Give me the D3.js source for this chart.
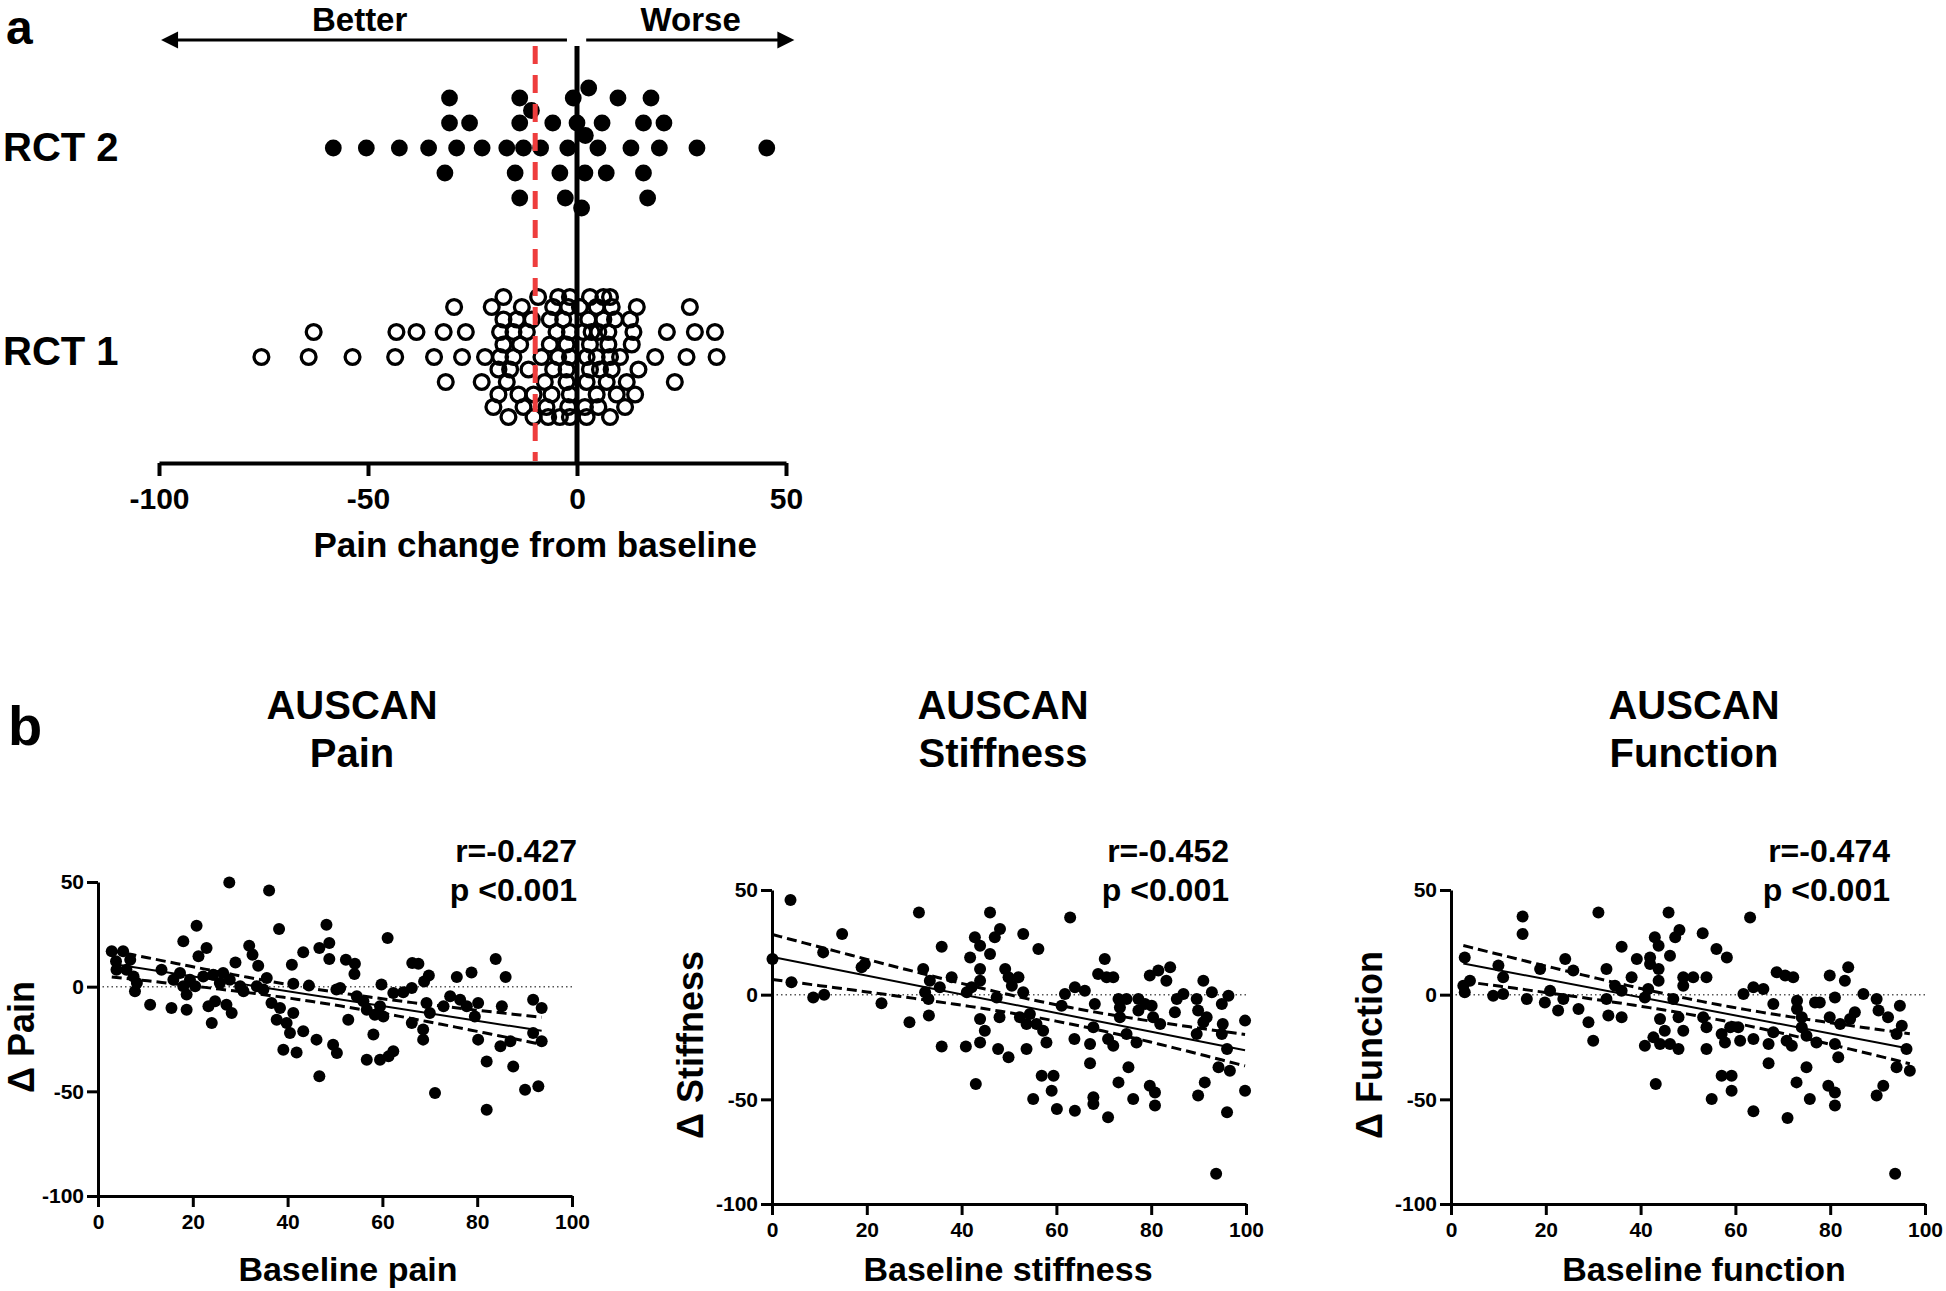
<!DOCTYPE html>
<html><head><meta charset="utf-8">
<script src="https://cdn.jsdelivr.net/npm/d3@7"></script>
<style>
body{margin:0;background:#fff}
svg{display:block}
text{font-family:"Liberation Sans",Arial,Helvetica,sans-serif;font-weight:bold;fill:#000}
</style>
</head><body>
<svg id="chart" width="1946" height="1291"></svg>
<script>
// ---------------- DATA ----------------
const rctCategories = ["RCT 2", "RCT 1"];
const panelATicks = [-100, -50, 0, 50];
const mcidValue = -10;
const panelAXLabel = "Pain change from baseline";
const betterLabel = "Better", worseLabel = "Worse";

// RCT 2: pain change from baseline (filled dots)
const rct2Values = [-58.3,-50.4,-42.5,-35.5,-28.8,-16.8,-8.7,-2.2,5.0,12.9,19.7,28.7,45.4,
  -30.5,-25.7,-13.7,-5.8,0,6.0,15.9,20.8,
  -31.6,-22.7,-14.8,-4.1,-0.9,7.0,15.9,
  -13.7,-2.8,1.9,9.8,17.7,
  -30.5,-13.7,1.1,16.9,
  -10.9,2.8,-12.8,2.0];

// RCT 1: pain change from baseline (open circles)
const rct1Values = [-75.5,-64.2,-53.7,-43.5,-34.2,-27.5,-22.0,-18.4,-15.2,-12.0,-8.5,-4.9,-1.7,1.5,4.7,7.5,10.3,13.5,18.7,26.2,33.4,
  -38.4,-31.9,-22.8,-20.4,-16.8,-13.2,-7.7,-5.7,-2.5,2.3,4.7,7.1,11.9,14.3,21.5,28.2,33.0,
  -63.0,-43.2,-31.4,-26.6,-20.0,-16.4,-14.0,-7.3,-4.1,-1.7,1.9,4.7,7.9,11.5,23.4,27.0,
  -17.6,-13.6,-9.3,-6.5,-3.3,3.1,7.9,14.7,
  -17.6,-14.4,-10.4,-5.7,-2.5,2.7,6.3,9.5,13.9,
  -29.4,-18.8,-11.6,-6.1,-2.1,3.1,8.3,13.1,
  -18.8,-12.8,-6.5,-2.5,0.7,5.1,12.7,
  -17.6,-16.0,-10.8,-4.5,-1.7,3.1,5.1,7.5,
  -18.4,-15.2,-10.4,-6.9,-4.5,-1.7,2.3,5.5,7.9,
  -2.1,3.5,8.3,
  -1.7,2.3,6.3,9.1];

// Panel b: [baseline, change]
const painPoints = [[27.7,49.8],[36.1,45.9],[20.8,29.1],[38.2,27.5],[48.2,29.6],[61.1,23.2],[18.0,21.7],[22.9,18.5],[21.2,14.5],[31.9,19.6],
 [32.6,15.3],[33.8,10.0],[29.0,11.6],[43.3,16.4],[40.9,10.5],[46.7,18.5],[48.8,20.9],[48.8,13.2],[52.3,12.9],[54.2,11.0],
 [54.1,6.1],[66.3,11.3],[67.6,11.0],[69.8,5.3],[68.8,2.5],[75.7,4.6],[78.8,6.8],[83.9,13.2],[86.0,4.6],[59.8,1.0],
 [64.4,-2.7],[66.2,-0.6],[51.1,-0.6],[41.2,1.4],[44.5,0.5],
 [2.9,16.9],[5.3,16.9],[3.8,12.1],[6.8,12.9],[3.9,8.1],[6.0,8.1],[7.5,4.9],[7.8,-2.2],[8.2,1.8],
 [11.0,-8.6],[15.5,-10.2],[18.7,-11.0],[23.3,-9.4],[24.0,-17.4],[27.1,-8.6],[28.2,-12.6],[24.7,-7.0],
 [13.4,8.1],[17.3,6.5],[18.0,0.2],[19.4,3.3],[15.9,3.3],[18.7,-3.8],[20.5,0.2],
 [22.2,4.9],[24.3,5.7],[26.4,6.5],[27.8,3.3],[25.7,1.8],[30.0,0.2],[30.7,-2.2],[33.5,0.2],[35.6,4.1],[34.9,-1.4],
 [36.6,-7.8],[38.4,-10.2],[37.7,-15.8],[41.2,-12.6],[39.8,-17.4],[40.5,-22.1],[43.3,-21.3],[46.1,-25.3],[39.1,-30.1],[41.9,-31.4],
 [49.6,-27.7],[50.4,-31.7],[46.7,-42.8],
 [50.3,-1.4],[52.8,-15.8],[54.6,-4.6],[56.0,-7.0],[56.7,-11.0],[58.4,-13.4],[58.1,-22.9],[60.2,-14.2],[59.5,-9.4],[62.3,-3.0],
 [56.7,-34.9],[59.5,-34.9],[62.3,-30.9],[61.3,-33.3],
 [66.2,-17.4],[68.6,-20.5],[68.6,-25.3],[70.0,-12.6],[69.3,-7.8],[71.1,-50.8],[74.3,-4.6],[76.4,-6.2],[77.8,-9.4],[80.2,-7.8],
 [79.5,-14.2],[80.2,-25.3],[82.0,-35.7],[82.0,-58.8],[85.2,-9.4],[84.9,-28.5],[87.0,-26.1],[87.6,-38.1],[90.1,-49.2],[92.9,-47.6],
 [91.8,-6.2],[93.6,-10.2],[91.8,-22.1],[93.6,-26.1],[72.9,-9.4]];

const stiffnessPoints = [[3.9,45.2],[0.1,17.0],[4.1,5.9],[8.7,-1.3],[11.0,0],[14.8,29.0],[10.8,20.2],[18.9,13.1],[19.6,14.6],[23.1,-4.1],
 [29.0,-13.2],[31.0,39.3],[31.9,12.3],[33.3,6.7],[32.3,1.1],[33.0,-2.1],[33.1,-10.0],[35.4,3.5],[35.8,22.9],[37.9,8.3],
 [35.8,-24.8],[40.9,-24.8],[41.1,1.1],[42.1,3.5],[41.8,17.8],[42.8,27.4],[43.9,23.4],[46.0,19.4],[43.9,12.3],[43.9,6.7],
 [43.0,-42.7],[43.9,-11.6],[44.9,-17.2],[43.9,-22.8],[46.0,39.3],[47.0,27.4],[48.1,31.4],[47.4,-1.3],[48.0,-10.8],[49.2,12.3],
 [49.9,8.3],[50.6,4.3],[52.0,8.3],[53.0,29.0],[53.0,1.1],[47.7,-26.0],[49.9,-29.9],[53.7,-26.0],[52.3,-10.8],[53.7,-14.0],
 [54.4,-9.2],[55.8,-14.0],[56.2,21.8],[57.2,-17.2],[57.9,-22.8],[56.9,-38.7],[59.4,-38.7],[59.0,-45.9],[55.1,-49.8],[60.1,-54.6],
 [61.1,-5.3],[61.8,0.3],[63.9,3.5],[66.0,1.9],[62.9,36.9],[63.8,-21.2],[63.9,-55.4],[67.1,-23.6],[67.1,-32.8],[67.8,-15.6],
 [67.8,-49.0],[67.8,-52.2],[68.1,-4.5],[68.8,9.9],[70.2,17.0],[70.6,8.3],[72.0,8.3],[70.9,-21.2],[72.0,-24.4],[70.9,-58.6],
 [73.1,-41.9],[73.1,-2.1],[73.4,-6.1],[73.4,-10.8],[74.8,-2.1],[74.8,-18.8],[75.2,-34.7],[76.2,-49.8],[76.9,-22.8],[77.3,-2.1],
 [77.3,-7.6],[78.7,-4.5],[79.7,9.1],[81.5,11.5],[84.0,13.1],[83.2,6.7],[80.1,-5.3],[80.4,-10.8],[81.9,-14.0],[79.7,-43.5],
 [80.8,-46.7],[80.8,-53.0],[85.0,-8.4],[85.4,-2.1],[86.8,0.3],[89.6,-2.1],[89.9,-7.6],[91.0,6.7],[92.8,1.1],[91.7,-10.8],
 [91.0,-13.2],[89.6,-18.8],[91.3,-41.9],[89.9,-48.2],[94.9,-4.5],[96.3,-0.5],[95.1,-14.0],[94.9,-18.8],[96.0,-26.0],[94.2,-34.7],
 [96.6,-36.3],[96.0,-56.2],[99.8,-12.4],[99.8,-45.9],[93.7,-85.5]];

const functionPoints = [[2.6,4.3],[2.9,1.1],[4.0,6.7],[2.9,17.8],[8.9,-0.5],[10.0,13.9],[11.0,8.3],[11.0,0.3],[15.1,37.3],[15.1,29.0],
 [16.0,-2.1],[18.8,12.3],[19.8,-3.7],[20.9,1.9],[22.6,-7.6],[23.7,-2.1],[24.1,17.0],[25.8,11.5],[26.9,-6.8],[29.0,-13.2],
 [30.0,-22.0],[31.1,39.3],[32.8,12.3],[32.8,-2.1],[33.2,-10.0],[34.6,4.3],[36.0,1.9],[36.0,-10.8],[36.0,22.9],[38.1,8.3],
 [39.2,17.0],[40.9,-1.3],[41.6,2.7],[42.0,17.8],[42.0,14.6],[43.0,27.4],[43.8,23.4],[43.8,12.3],[43.8,6.7],[46.2,18.6],
 [45.9,39.3],[47.3,27.4],[48.2,30.9],[46.9,-2.1],[48.0,-10.8],[49.0,-17.2],[44.1,-11.6],[45.1,-17.2],[40.9,-24.4],[42.7,-20.4],
 [44.1,-23.6],[46.2,-23.6],[48.0,-26.0],[43.2,-42.7],[49.0,8.3],[51.1,8.3],[53.9,8.3],[49.0,4.3],[53.1,29.3],[53.2,-10.8],
 [53.9,-15.6],[53.9,-26.0],[56.0,21.8],[58.2,17.8],[57.1,-18.8],[57.8,-22.8],[58.9,-15.6],[60.6,-15.6],[61.0,-22.0],[57.1,-38.7],
 [59.2,-38.7],[59.2,-45.9],[55.0,-49.8],[61.7,0.3],[63.8,3.5],[65.9,2.7],[63.1,36.9],[63.8,-21.2],[63.8,-55.7],[67.0,-23.6],
 [67.0,-32.8],[68.0,-18.0],[68.0,-4.5],[68.7,10.7],[70.5,9.1],[72.2,8.3],[70.8,-22.0],[71.9,-24.4],[71.0,-58.9],[73.0,-2.9],
 [73.0,-6.8],[74.0,-10.8],[74.0,-15.6],[75.0,-19.6],[75.0,-34.7],[72.9,-41.9],[75.7,-49.8],[76.8,-3.7],[77.8,-3.7],[77.1,-22.8],
 [79.9,9.1],[81.0,-1.3],[79.9,-10.8],[82.1,-14.0],[81.0,-23.6],[81.7,-29.9],[83.8,13.1],[83.1,6.7],[84.2,-11.6],[85.2,-8.4],
 [79.6,-43.5],[81.0,-46.7],[81.0,-53.0],[87.0,0.3],[89.8,-2.1],[90.2,-7.6],[92.2,-10.8],[94.7,-5.3],[95.1,-14.8],[94.0,-18.8],
 [96.1,-26.0],[94.0,-34.7],[96.8,-36.3],[91.2,-43.5],[89.8,-48.2],[93.7,-85.5]];

const scatterNames = ["Pain", "Stiffness", "Function"];
const scatterTitleTop = "AUSCAN";
const scatterXLabels = ["Baseline pain", "Baseline stiffness", "Baseline function"];
const scatterYLabels = ["\u0394 Pain", "\u0394 Stiffness", "\u0394 Function"];
const scatterR = ["r=-0.427", "r=-0.452", "r=-0.474"];
const scatterP = ["p <0.001", "p <0.001", "p <0.001"];
const scatterXTicks = [0, 20, 40, 60, 80, 100];
const scatterYTicks = [50, 0, -50, -100];

// ---------------- DRAW ----------------
const svg = d3.select("#chart");
const FONT = '"Liberation Sans", Arial, Helvetica, sans-serif';
const plainFmt = d => String(d);   // hyphen-minus like the original

function styleAxis(g, fs, sw) {
  g.select(".domain").attr("stroke", "#000").attr("stroke-width", sw);
  g.selectAll(".tick line").attr("stroke", "#000").attr("stroke-width", sw);
  g.selectAll(".tick text").attr("font-size", fs).attr("font-weight", "bold")
    .attr("font-family", FONT).attr("fill", "#000");
}

// ===== Panel a =====
const xA = d3.scaleLinear().domain([-100, 50]).range([159, 786]);
const yA = d3.scalePoint().domain(rctCategories).range([148, 357]);
const axisAY = 463;
const gA = svg.append("g");

svg.append("text").attr("x", 6).attr("y", 44).attr("font-size", 48).text("a");

// beeswarm-like lane placement
function swarm(values, scale, spacing, minDist, lanes) {
  const placed = [];
  return values.map(v => {
    const px = scale(v);
    let best = 0, bestD = -1;
    for (const l of lanes) {
      const py = -l * spacing;
      let d = Infinity;
      for (const p of placed) { const dd = Math.hypot(px - p.x, py - p.y); if (dd < d) d = dd; }
      if (d >= minDist) { best = l; bestD = d; break; }
      if (d > bestD) { bestD = d; best = l; }
    }
    const pt = {v, x: px, y: -best * spacing};
    placed.push(pt);
    return pt;
  });
}
const laneOrder = [0, 1, -1, 2, -2, 0.5, -0.5, 1.5, -1.5, 2.4, -2.4];
const rct2Pts = swarm(rct2Values, xA, 25, 19, laneOrder);
const rct1Pts = swarm(rct1Values, xA, 25, 19, laneOrder);

gA.append("g").selectAll("circle").data(rct2Pts).join("circle")
  .attr("cx", d => d.x).attr("cy", d => yA("RCT 2") + d.y).attr("r", 8.4).attr("fill", "#000");
gA.append("g").selectAll("circle").data(rct1Pts).join("circle")
  .attr("cx", d => d.x).attr("cy", d => yA("RCT 1") + d.y).attr("r", 7.4)
  .attr("fill", "none").attr("stroke", "#000").attr("stroke-width", 3.3);

// vertical zero line and MCID dashed line
gA.append("line").attr("x1", xA(0)).attr("x2", xA(0)).attr("y1", 46).attr("y2", axisAY)
  .attr("stroke", "#000").attr("stroke-width", 5);
gA.append("line").attr("x1", xA(mcidValue)).attr("x2", xA(mcidValue)).attr("y1", 46).attr("y2", axisAY - 2)
  .attr("stroke", "#ee3d3d").attr("stroke-width", 5).attr("stroke-dasharray", "18,11");

// axis
gA.append("g").attr("transform", `translate(0,${axisAY})`)
  .call(d3.axisBottom(xA).tickValues(panelATicks).tickSize(13).tickSizeOuter(0).tickPadding(12).tickFormat(plainFmt))
  .call(g => styleAxis(g, 30, 4));
gA.append("text").attr("x", xA(-10)).attr("y", 557).attr("text-anchor", "middle").attr("font-size", 35).text(panelAXLabel);

// category labels
rctCategories.forEach(c => {
  gA.append("text").attr("x", 3).attr("y", yA(c) + (c === "RCT 2" ? 13 : 8)).attr("font-size", 40).text(c);
});

// Better / Worse arrows
const arrowY = 40;
function arrow(x1, x2) {
  gA.append("line").attr("x1", x1).attr("x2", x2 + (x2 > x1 ? -12 : 12)).attr("y1", arrowY).attr("y2", arrowY)
    .attr("stroke", "#000").attr("stroke-width", 3);
  const dir = x2 > x1 ? 1 : -1;
  gA.append("path").attr("d", `M${x2},${arrowY}L${x2 - dir * 17},${arrowY - 8.5}L${x2 - dir * 17},${arrowY + 8.5}Z`).attr("fill", "#000");
}
arrow(xA(-2.4), xA(-99.5));
arrow(xA(2.2), xA(52));
gA.append("text").attr("x", xA(-52)).attr("y", 31).attr("text-anchor", "middle").attr("font-size", 33).text(betterLabel);
gA.append("text").attr("x", xA(27.2)).attr("y", 31).attr("text-anchor", "middle").attr("font-size", 33).text(worseLabel);

// ===== Panel b =====
svg.append("text").attr("x", 8).attr("y", 745).attr("font-size", 56).text("b");

const scatterData = [painPoints, stiffnessPoints, functionPoints];
const layouts = [
  {x0: 98, x1: 572, yTop: 882, yBot: 1196, titleX: 352, statX: 577, xLabX: 348},
  {x0: 772, x1: 1246, yTop: 890, yBot: 1204, titleX: 1003, statX: 1229, xLabX: 1008},
  {x0: 1451, x1: 1925, yTop: 890, yBot: 1204, titleX: 1694, statX: 1890, xLabX: 1704}
];

function regression(pts) {
  const n = pts.length;
  const mx = d3.mean(pts, d => d[0]), my = d3.mean(pts, d => d[1]);
  let sxx = 0, sxy = 0;
  pts.forEach(d => { sxx += (d[0] - mx) ** 2; sxy += (d[0] - mx) * (d[1] - my); });
  const b = sxy / sxx, a = my - b * mx;
  let sse = 0;
  pts.forEach(d => { sse += (d[1] - (a + b * d[0])) ** 2; });
  const s = Math.sqrt(sse / (n - 2));
  const t = 1.96 + 2.5 / (n - 2);
  return {a, b, ci: x => t * s * Math.sqrt(1 / n + (x - mx) ** 2 / sxx),
    xmin: d3.min(pts, d => d[0]), xmax: d3.max(pts, d => d[0])};
}

scatterData.forEach((pts, i) => {
  const L = layouts[i];
  const x = d3.scaleLinear().domain([0, 100]).range([L.x0, L.x1]);
  const y = d3.scaleLinear().domain([-100, 50]).range([L.yBot, L.yTop]);
  const g = svg.append("g");

  // titles
  g.append("text").attr("x", L.titleX).attr("y", 719).attr("text-anchor", "middle").attr("font-size", 40).text(scatterTitleTop);
  g.append("text").attr("x", L.titleX).attr("y", 767).attr("text-anchor", "middle").attr("font-size", 40).text(scatterNames[i]);

  // stats
  g.append("text").attr("x", L.statX).attr("y", 862).attr("text-anchor", "end").attr("font-size", 32).text(scatterR[i]);
  g.append("text").attr("x", L.statX).attr("y", 901).attr("text-anchor", "end").attr("font-size", 32).text(scatterP[i]);

  // zero dotted line
  g.append("line").attr("x1", x(0)).attr("x2", x(100)).attr("y1", y(0)).attr("y2", y(0))
    .attr("stroke", "#555").attr("stroke-width", 1.5).attr("stroke-dasharray", "1.5,3");

  // dots
  g.append("g").selectAll("circle").data(pts).join("circle")
    .attr("cx", d => x(d[0])).attr("cy", d => y(d[1])).attr("r", 6).attr("fill", "#000");

  // regression line + 95% CI
  const R = regression(pts);
  const xs = d3.range(0, 61).map(k => R.xmin + (R.xmax - R.xmin) * k / 60);
  g.append("line").attr("x1", x(R.xmin)).attr("x2", x(R.xmax))
    .attr("y1", y(R.a + R.b * R.xmin)).attr("y2", y(R.a + R.b * R.xmax))
    .attr("stroke", "#000").attr("stroke-width", 2);
  [1, -1].forEach(sgn => {
    g.append("path").attr("d", d3.line().x(v => x(v)).y(v => y(R.a + R.b * v + sgn * R.ci(v)))(xs))
      .attr("fill", "none").attr("stroke", "#000").attr("stroke-width", 3).attr("stroke-dasharray", "10,5");
  });

  // axes
  g.append("g").attr("transform", `translate(${L.x0},0)`)
    .call(d3.axisLeft(y).tickValues(scatterYTicks).tickSize(11).tickSizeOuter(0).tickPadding(3).tickFormat(plainFmt))
    .call(a => styleAxis(a, 21, 3));
  g.append("g").attr("transform", `translate(0,${L.yBot})`)
    .call(d3.axisBottom(x).tickValues(scatterXTicks).tickSize(11).tickSizeOuter(0).tickPadding(7).tickFormat(plainFmt))
    .call(a => styleAxis(a, 21, 3));

  // axis labels
  g.append("text").attr("x", L.xLabX).attr("y", 1281).attr("text-anchor", "middle").attr("font-size", 34).text(scatterXLabels[i]);
  const yMid = (L.yTop + L.yBot) / 2 - 2;
  const yLabX = Math.max(L.x0 - 69, 34);
  g.append("text").attr("transform", `translate(${yLabX},${yMid}) rotate(-90)`)
    .attr("text-anchor", "middle").attr("font-size", 36).text(scatterYLabels[i]);
});
</script>
</body></html>
